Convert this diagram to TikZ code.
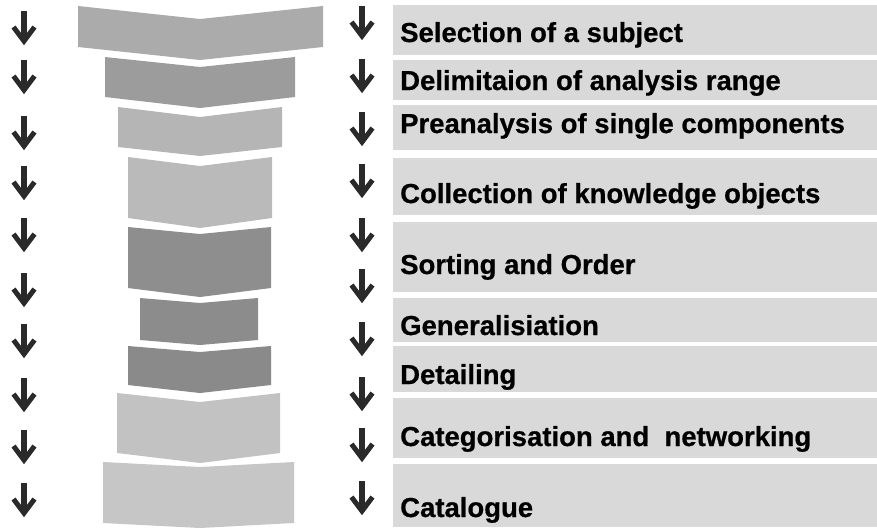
\documentclass[tikz,border=0pt]{standalone}
\usepackage{fontspec}
\setmainfont{Liberation Sans}
\newfontface\labfont{Liberation Sans Bold}[FakeBold=0.6]
\definecolor{arrowgray}{HTML}{2A2A2A}
\definecolor{bandgray}{HTML}{D9D9D9}
\definecolor{cA}{HTML}{ABABAB}
\definecolor{cB}{HTML}{9C9C9C}
\definecolor{cC}{HTML}{B5B5B5}
\definecolor{cD}{HTML}{BABABA}
\definecolor{cE}{HTML}{8E8E8E}
\definecolor{cF}{HTML}{8C8C8C}
\definecolor{cG}{HTML}{8A8A8A}
\definecolor{cH}{HTML}{C2C2C2}
\definecolor{cI}{HTML}{C6C6C6}
\begin{document}
\begin{tikzpicture}[x=1pt,y=-1pt,
  lab/.style={anchor=base west, inner sep=0pt, font=\fontsize{27.5}{30}\labfont},
  labband/.style={fill=bandgray},
  dnarrow/.pic={
    \draw[line width=6pt, arrowgray] (0,-17) -- (0,9);
    \draw[line width=5pt, arrowgray, line join=miter, line cap=butt] (-10.5,-1) -- (0,13) -- (10.5,-1);
  }]
\useasboundingbox (0,0) rectangle (877,531);
% label bands
\fill[labband] (393,5) rectangle (877,55);
\fill[labband] (393,60) rectangle (877,100);
\fill[labband] (393,105) rectangle (877,150);
\fill[labband] (393,158) rectangle (877,215);
\fill[labband] (393,222) rectangle (877,292);
\fill[labband] (393,298) rectangle (877,342);
\fill[labband] (393,346) rectangle (877,392);
\fill[labband] (393,398) rectangle (877,458);
\fill[labband] (393,464) rectangle (877,527);
% chevron bands
\fill[cA] (78,6) -- (200,19) -- (323,6) -- (323,47) -- (200,60) -- (78,47) -- cycle;
\fill[cB] (105,57) -- (200,67) -- (295,57) -- (295,97) -- (200,108) -- (105,97) -- cycle;
\fill[cC] (118,107) -- (200,117) -- (282,107) -- (282,147) -- (200,156) -- (118,147) -- cycle;
\fill[cD] (128,157) -- (200,166) -- (272,157) -- (272,218) -- (200,228) -- (128,218) -- cycle;
\fill[cE] (128,227) -- (200,234) -- (271,227) -- (271,288) -- (200,297) -- (128,288) -- cycle;
\fill[cF] (140,298) -- (200,303) -- (258,298) -- (258,340) -- (200,345) -- (140,340) -- cycle;
\fill[cG] (128,346) -- (200,352) -- (271,346) -- (271,385) -- (200,393) -- (128,385) -- cycle;
\fill[cH] (117,393) -- (200,402) -- (280,393) -- (280,453) -- (200,463) -- (117,453) -- cycle;
\fill[cI] (103,462) -- (200,467) -- (294,462) -- (294,523) -- (200,528) -- (103,523) -- cycle;
% arrows
\foreach \y [count=\i] in {28,77,133,183,235,290,341,395,447,500}{
  \pic (la\i) at (24,\y) {dnarrow};
}
\foreach \y [count=\i] in {23,76,129,181,235,286,339,394,445,498}{
  \pic (ma\i) at (362,\y) {dnarrow};
}
% labels
\node[lab] (t1) at (400,42) {Selection of a subject};
\node[lab] (t2) at (400,90) {Delimitaion of analysis range};
\node[lab] (t3) at (400,133) {Preanalysis of single components};
\node[lab] (t4) at (400,203) {Collection of knowledge objects};
\node[lab] (t5) at (400,274) {Sorting and Order};
\node[lab] (t6) at (400,335) {Generalisiation};
\node[lab] (t7) at (400,384) {Detailing};
\node[lab] (t8) at (400,446) {Categorisation and\ \ networking};
\node[lab] (t9) at (400,517) {Catalogue};
\end{tikzpicture}
\end{document}
